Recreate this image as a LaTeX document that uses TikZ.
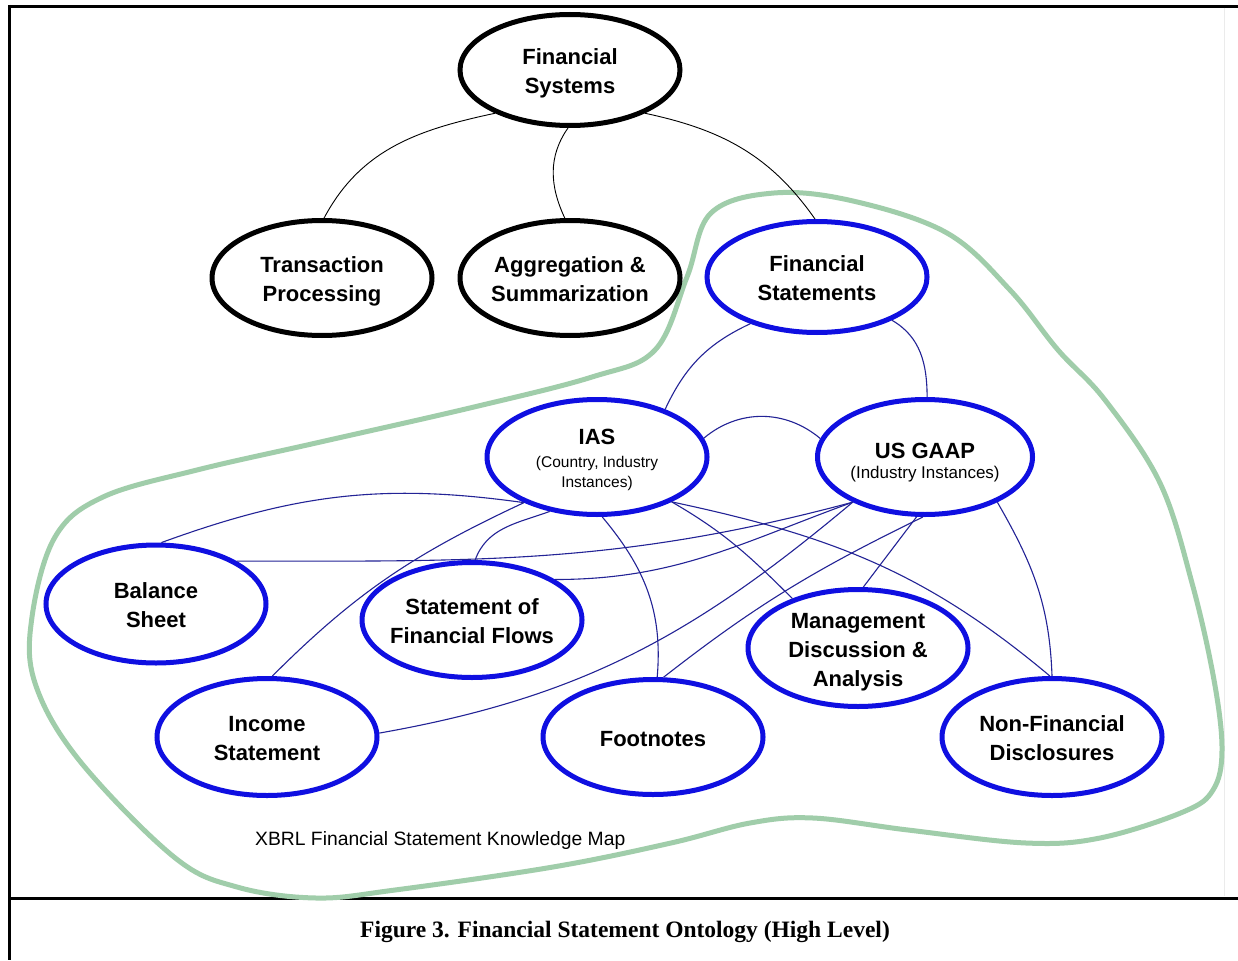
\documentclass[tikz,border=0pt]{standalone}
\usepackage{fontspec}
\setmainfont{Liberation Sans}
\newfontfamily\capfont{Liberation Serif}
\usetikzlibrary{shapes.geometric}
\definecolor{ellblue}{RGB}{15,15,225}
\definecolor{linkblue}{RGB}{35,35,150}
\definecolor{mapgreen}{RGB}{160,205,170}
\newcommand{\mainf}{\fontsize{22}{29}\selectfont\bfseries}
\newcommand{\subfa}{\fontsize{15.5}{20}\selectfont\mdseries}
\newcommand{\subfb}{\fontsize{17}{20}\selectfont\mdseries}
\newcommand{\lbl}[1]{\makebox[0pt]{\smash{\raisebox{-8.5pt}{\begin{tabular}{@{}c@{}}#1\end{tabular}}}}}
\begin{document}
\begin{tikzpicture}[x=1pt,y=1pt,
 ell/.style={ellipse, draw, line width=5pt, minimum width=220pt, minimum height=115pt, inner sep=0pt, font=\mainf},
 blackell/.style={ell, draw=black},
 blueell/.style={ell, draw=ellblue},
 blink/.style={draw=linkblue, line width=1.1pt},
 klink/.style={draw=black, line width=0.9pt}]
\useasboundingbox (0,0) rectangle (1238,-960);
\fill[white] (0,0) rectangle (1238,-960);
% frame
\draw[line width=3pt] (8,-6.5) -- (1238,-6.5);
\draw[line width=3pt] (9.5,-5) -- (9.5,-960);
\draw[line width=3pt] (8,-898) -- (1238,-898);
\draw[black!8, line width=0.8pt] (1224,-8) -- (1224,-896);
% knowledge map boundary
\draw[mapgreen, line width=5pt] plot[smooth cycle, tension=0.6] coordinates {
 (774,-193) (853,-201) (947,-233) (1010,-290) (1058,-350) (1105,-400) (1160,-483)
 (1192,-583) (1214,-680) (1222,-750) (1213,-790) (1183,-812) (1100,-838) (1026,-843)
 (908,-830) (813,-818) (750,-823) (671,-843) (553,-867) (395,-890) (316,-898)
 (237,-887) (174,-857) (79,-760) (35,-683) (32,-617) (55,-537) (103,-497)
 (197,-470) (316,-443) (474,-407) (592,-377) (655,-350) (687,-277) (711,-213)};
% nodes
\node[blackell, minimum height=111pt] (nsys) at (570,-70) {\lbl{Financial\\Systems}};
\node[blackell] (ntp) at (322,-278) {\lbl{Transaction\\Processing}};
\node[blackell] (nagg) at (570,-278) {\lbl{Aggregation \&\\Summarization}};
\node[blueell, minimum height=111pt] (nfs) at (817,-277) {\lbl{Financial\\Statements}};
\node[blueell] (nias) at (597,-457) {\lbl{IAS\\[-6pt]{\subfa (Country, Industry}\\[-9pt]{\subfa Instances)}}};
\node[blueell, minimum width=215pt] (nusg) at (925,-457) {\lbl{\raisebox{-4pt}{US GAAP}\\[-5pt]{\subfb (Industry Instances)}}};
\node[blueell, minimum height=118pt] (nbs) at (156,-604) {\lbl{Balance\\Sheet}};
\node[blueell] (nsff) at (472,-620) {\lbl{Statement of\\Financial Flows}};
\node[blueell, minimum height=117pt] (nmda) at (858,-648) {\lbl{Management\\Discussion \&\\Analysis}};
\node[blueell, minimum height=117pt] (nis) at (267,-737) {\lbl{Income\\Statement}};
\node[blueell] (nfn) at (653,-737) {\lbl{Footnotes}};
\node[blueell, minimum height=117pt] (nnfd) at (1052,-737) {\lbl{Non-Financial\\Disclosures}};
\node[anchor=west, inner sep=0pt, font=\fontsize{19.3}{23}\selectfont] (nmap) at (255,-840) {XBRL Financial Statement Knowledge Map};
\node[font=\capfont\fontsize{23.5}{28}\selectfont\bfseries] (ncap) at (625,-932) {Figure 3. Financial Statement Ontology (High Level)};
% connectors
\draw[klink] (nsys.210) to[out=192,in=62] (ntp.88);
\draw[klink] (nsys.268) to[out=235,in=115] (nagg.95);
\draw[klink] (nsys.-30) to[out=-12,in=125] (nfs.92);
\draw[blink] (nfs.215) to[out=205,in=65] (nias.35);
\draw[blink] (nfs.-30) to[out=-30,in=90] (nusg.88);
\draw[blink] (nias.10) to[out=40,in=140] (nusg.170);
\draw[blink] (nbs.85) to[out=20,in=172] (nias.212);
\draw[blink] (nbs.28) to[out=0,in=195] (nusg.212);
\draw[blink] (nsff.26) to[out=0,in=200] (nusg.212);
\draw[blink] (nsff.87) to[out=70,in=200] (nias.229);
\draw[blink] (nis.85) to[out=45,in=205] (nias.212);
\draw[blink] (nis.2) to[out=10,in=220] (nusg.212);
\draw[blink] (nias.275) to[out=-50,in=85] (nfn.86);
\draw[blink] (nfn.80) to[out=38,in=206] (nusg.268);
\draw[blink] (nias.-31) to[out=-30,in=135] (nmda.143);
\draw[blink] (nias.-31) to[out=-12,in=140] (nnfd.92);
\draw[blink] (nmda.85) -- (nusg.262);
\draw[blink] (nusg.-32) to[out=-60,in=92] (nnfd.90);
\end{tikzpicture}
\end{document}
